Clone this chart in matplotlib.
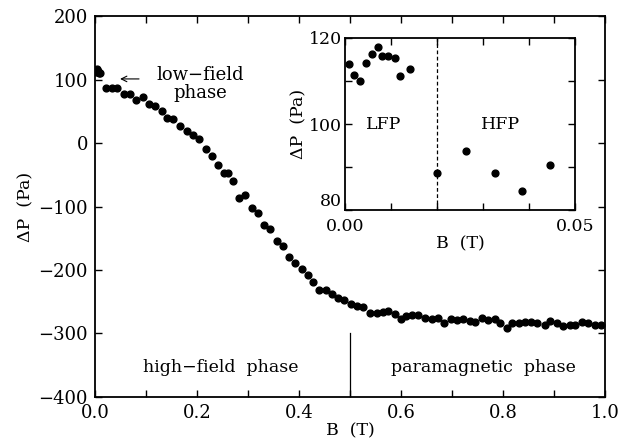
import matplotlib
matplotlib.use("Agg")
import matplotlib.pyplot as plt
from matplotlib.ticker import MultipleLocator, FixedLocator

plt.rcParams['font.family'] = ['DejaVu Serif']
plt.rcParams['mathtext.fontset'] = 'dejavuserif'

#%% Data

# main panel: pressure difference vs field
B_main = [0.002, 0.004, 0.006, 0.008, 0.010,
          0.022, 0.033, 0.044, 0.058, 0.069, 0.080, 0.094, 0.106, 0.118,
          0.131, 0.142, 0.153, 0.167, 0.180, 0.192, 0.204, 0.217, 0.229,
          0.241, 0.253, 0.260, 0.271, 0.283, 0.295, 0.307, 0.319, 0.332,
          0.343, 0.356, 0.368, 0.380, 0.392, 0.405, 0.417, 0.428, 0.440,
          0.452, 0.464, 0.477, 0.489, 0.501, 0.513, 0.525, 0.539, 0.552,
          0.564, 0.575, 0.588, 0.600, 0.610, 0.621, 0.634, 0.647, 0.660,
          0.672, 0.685, 0.697, 0.709, 0.722, 0.735, 0.745, 0.758, 0.771,
          0.783, 0.794, 0.807, 0.818, 0.830, 0.843, 0.854, 0.867, 0.881,
          0.892, 0.905, 0.918, 0.930, 0.941, 0.954, 0.967, 0.979, 0.992]
dP_main = [112, 116, 113, 110, 111,
           86, 86, 87, 77.5, 78, 67.7, 73.3, 60.8, 58.3,
           50.6, 40, 38.3, 27, 19, 12, 6, -9, -21,
           -35, -47, -47, -60, -86, -82, -103, -110, -129,
           -135, -155, -162, -179, -189, -199, -208, -219, -231,
           -232, -238, -244, -247, -253, -256, -259, -268, -268,
           -266, -264, -270, -278, -273, -271, -271, -275, -278,
           -276, -283, -277, -279, -277, -280, -282, -276, -279,
           -277, -283, -291, -283, -283, -282, -282, -283, -287,
           -280, -284, -289, -287, -287, -282, -283, -286, -286]

# inset: low-field region
B_inset = [0.0009, 0.0020, 0.0033, 0.0045, 0.0058, 0.0071, 0.0081, 0.0094,
           0.0108, 0.0120, 0.0141, 0.0201, 0.0264, 0.0326, 0.0386, 0.0447]
dP_inset = [113.9, 111.5, 110.0, 114.2, 116.3, 117.9, 115.8, 115.7,
            115.3, 111.1, 112.9, 88.6, 93.7, 88.6, 84.5, 90.4]

main_xticks = [0.0, 0.2, 0.4, 0.6, 0.8, 1.0]
main_yticks = [-400, -300, -200, -100, 0, 100, 200]
inset_xticks = [0.00, 0.05]
inset_yticks = [80, 100, 120]

#%% Figure

fig = plt.figure(figsize=(6.24, 4.47), dpi=100)
ax = fig.add_axes([0.152, 0.112, 0.818, 0.852])

ax.plot(B_main, dP_main, 'ko', ms=4.9, mec='k')
ax.set_xlim(0, 1.0)
ax.set_ylim(-400, 200)
ax.xaxis.set_major_locator(FixedLocator(main_xticks))
ax.xaxis.set_minor_locator(MultipleLocator(0.1))
ax.yaxis.set_major_locator(FixedLocator(main_yticks))
ax.set_xticklabels(['%.1f' % v for v in main_xticks])
ax.set_yticklabels(['%d' % v if v >= 0 else '\u2212%d' % -v for v in main_yticks])
ax.tick_params(which='both', direction='in', top=True, right=True,
               length=5, width=1, labelsize=13, pad=5)
for s in ax.spines.values():
    s.set_linewidth(1.3)
ax.set_xlabel('B  (T)', fontsize=12.5, labelpad=0)
ax.set_ylabel('\u0394P  (Pa)', fontsize=12.5, labelpad=3)

# phase boundary and labels
ax.plot([0.5, 0.5], [-400, -300], 'k-', lw=0.9)
ax.text(0.094, -354, 'high\u2212field  phase', fontsize=12.5, va='center', ha='left')
ax.text(0.762, -354, 'paramagnetic  phase', fontsize=12.5, va='center', ha='center')
ax.text(0.207, 93, 'low\u2212field\nphase', fontsize=13, va='center', ha='center',
        linespacing=0.95)
ax.annotate('', xy=(0.044, 101), xytext=(0.092, 101),
            arrowprops=dict(arrowstyle='->', lw=0.8, color='k'))

#%% Inset

axi = fig.add_axes([0.553, 0.530, 0.368, 0.385])
axi.plot(B_inset, dP_inset, 'ko', ms=4.9, mec='k')
axi.axvline(0.02, color='k', ls='--', lw=0.9, dashes=(3, 2))
axi.set_xlim(0, 0.05)
axi.set_ylim(80, 120)
axi.xaxis.set_major_locator(FixedLocator(inset_xticks))
axi.xaxis.set_minor_locator(MultipleLocator(0.01))
axi.yaxis.set_major_locator(FixedLocator(inset_yticks))
axi.yaxis.set_minor_locator(MultipleLocator(10))
axi.set_xticklabels(['%.2f' % v for v in inset_xticks])
axi.tick_params(which='both', direction='in', top=True, right=True,
                length=5, width=1, labelsize=12.5, pad=2)
axi.tick_params(axis='x', pad=6)
# the bottom y label sits a touch above the axis line, as in the original
axi.get_yticklabels()[0].set_verticalalignment('bottom')
for s in axi.spines.values():
    s.set_linewidth(1.3)
axi.set_xlabel('B  (T)', fontsize=12.5, labelpad=0)
axi.set_ylabel('\u0394P  (Pa)', fontsize=12.5, labelpad=1)
axi.text(0.0045, 100, 'LFP', fontsize=12.5, va='center', ha='left')
axi.text(0.0295, 100, 'HFP', fontsize=12.5, va='center', ha='left')

fig.savefig('out.png', dpi=100)
